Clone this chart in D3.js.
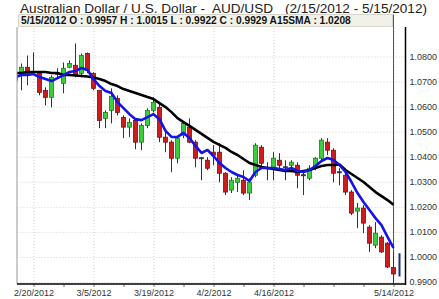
<!DOCTYPE html>
<html><head><meta charset="utf-8">
<script src="https://cdn.jsdelivr.net/npm/d3@7"></script>
<style>
body{margin:0;background:#fff;}
svg{display:block;font-family:"Liberation Sans",Arial,sans-serif;}
</style>
</head><body>
<svg id="c" width="439" height="299"></svg>
<script>
// ---------- DATA ----------
const dates = ["2/15/2012","2/16/2012","2/17/2012","2/20/2012","2/21/2012","2/22/2012","2/23/2012","2/24/2012","2/27/2012","2/28/2012","2/29/2012",
"3/1/2012","3/2/2012","3/5/2012","3/6/2012","3/7/2012","3/8/2012","3/9/2012","3/12/2012","3/13/2012","3/14/2012","3/15/2012","3/16/2012","3/19/2012","3/20/2012","3/21/2012","3/22/2012","3/23/2012","3/26/2012","3/27/2012","3/28/2012","3/29/2012","3/30/2012",
"4/2/2012","4/3/2012","4/4/2012","4/5/2012","4/6/2012","4/9/2012","4/10/2012","4/11/2012","4/12/2012","4/13/2012","4/16/2012","4/17/2012","4/18/2012","4/19/2012","4/20/2012","4/23/2012","4/24/2012","4/25/2012","4/26/2012","4/27/2012","4/30/2012",
"5/1/2012","5/2/2012","5/3/2012","5/4/2012","5/7/2012","5/8/2012","5/9/2012","5/10/2012","5/11/2012","5/14/2012","5/15/2012"];

const open  = [1.0705,1.0725,1.0757,1.0740,1.0733,1.0665,1.0637,1.0730,1.0693,1.0757,1.0765,
1.0733,1.0812,1.0733,1.0665,1.0553,1.0585,1.0633,1.0557,1.0518,1.0545,1.0458,1.0525,1.0585,1.0597,1.0478,1.0458,1.0394,1.0486,1.0518,1.0458,1.0396,1.0386,
1.0418,1.0418,1.0334,1.0267,1.0298,1.0306,1.0255,1.0326,1.0438,1.0356,1.0358,1.0386,1.0360,1.0366,1.0366,1.0328,1.0314,1.0358,1.0394,1.0458,1.0426,
1.0340,1.0326,1.0259,1.0183,1.0195,1.0119,1.0047,1.0079,1.0055,0.9958,0.9957];
const high  = [1.0745,1.0772,1.0804,1.0816,1.0737,1.0677,1.0725,1.0753,1.0776,1.0784,1.0852,
1.0812,1.0816,1.0737,1.0665,1.0585,1.0673,1.0645,1.0565,1.0553,1.0553,1.0533,1.0593,1.0637,1.0613,1.0498,1.0466,1.0478,1.0537,1.0553,1.0466,1.0398,1.0398,
1.0446,1.0454,1.0338,1.0318,1.0326,1.0346,1.0314,1.0454,1.0446,1.0378,1.0418,1.0414,1.0386,1.0386,1.0378,1.0338,1.0366,1.0398,1.0474,1.0474,1.0434,
1.0354,1.0334,1.0267,1.0215,1.0207,1.0127,1.0139,1.0087,1.0059,1.0020,1.0015];
const low   = [1.0665,1.0665,1.0685,1.0733,1.0645,1.0605,1.0597,1.0713,1.0653,1.0753,1.0717,
1.0717,1.0733,1.0665,1.0514,1.0514,1.0533,1.0565,1.0474,1.0478,1.0430,1.0426,1.0514,1.0577,1.0458,1.0418,1.0338,1.0374,1.0474,1.0454,1.0358,1.0306,1.0346,
1.0366,1.0298,1.0247,1.0255,1.0259,1.0247,1.0227,1.0318,1.0358,1.0306,1.0306,1.0346,1.0306,1.0338,1.0274,1.0247,1.0306,1.0346,1.0386,1.0406,1.0298,
1.0286,1.0247,1.0167,1.0115,1.0095,1.0020,1.0035,1.0016,0.9956,0.9900,0.9922];
const close = [1.0730,1.0757,1.0725,1.0737,1.0657,1.0637,1.0717,1.0733,1.0753,1.0772,1.0725,
1.0804,1.0745,1.0673,1.0545,1.0577,1.0641,1.0577,1.0518,1.0537,1.0458,1.0525,1.0585,1.0617,1.0478,1.0458,1.0394,1.0474,1.0533,1.0458,1.0394,1.0392,1.0354,
1.0406,1.0334,1.0259,1.0306,1.0314,1.0255,1.0298,1.0446,1.0374,1.0352,1.0394,1.0366,1.0356,1.0378,1.0326,1.0324,1.0354,1.0394,1.0466,1.0426,1.0334,
1.0336,1.0259,1.0175,1.0195,1.0135,1.0055,1.0095,1.0020,0.9960,0.9932,0.9929];

// 15-period SMA (black), 2/15 .. 5/14
const sma15 = [1.0734,1.0734,1.0738,1.0738,1.0738,1.0738,1.0734,1.0734,1.0726,1.0726,1.0724,1.0722,1.0720,1.0716,1.0710,1.0702,1.0690,1.0682,1.0670,1.0662,1.0654,1.0646,1.0638,1.0630,1.0614,1.0598,1.0578,1.0554,1.0538,1.0523,1.0507,1.0491,1.0475,
1.0459,1.0447,1.0435,1.0419,1.0407,1.0391,1.0375,1.0367,1.0359,1.0355,1.0351,1.0347,1.0343,1.0343,1.0339,1.0343,1.0347,1.0355,1.0363,1.0367,1.0367,1.0369,1.0347,1.0331,1.0315,1.0299,1.0279,1.0259,1.0243,1.0227,1.0208];
// short moving average (blue), 2/15 .. 5/14
const maShort = [1.0718,1.0726,1.0726,1.0730,1.0718,1.0710,1.0702,1.0714,1.0726,1.0738,1.0742,1.0754,1.0746,1.0710,1.0682,1.0662,1.0654,1.0618,1.0594,1.0570,1.0550,1.0546,1.0558,1.0570,1.0550,1.0503,1.0479,1.0479,1.0495,1.0475,1.0443,1.0415,1.0427,
1.0403,1.0375,1.0355,1.0339,1.0327,1.0319,1.0303,1.0339,1.0355,1.0355,1.0355,1.0351,1.0347,1.0355,1.0343,1.0339,1.0347,1.0363,1.0383,1.0395,1.0387,1.0367,1.0339,1.0299,1.0255,1.0219,1.0187,1.0155,1.0127,1.0080,1.0036];

const yTicks = [0.99,1.00,1.01,1.02,1.03,1.04,1.05,1.06,1.07,1.08];
const xLabels = ["2/20/2012","3/5/2012","3/19/2012","4/2/2012","4/16/2012","5/14/2012"];
const weekTicks = ["2/20/2012","2/27/2012","3/5/2012","3/12/2012","3/19/2012","3/26/2012","4/2/2012","4/9/2012","4/16/2012","4/23/2012","4/30/2012","5/7/2012","5/14/2012"];
const titleMain = "Australian Dollar / U.S. Dollar -  AUD/USD";
const titleRange = "(2/15/2012 - 5/15/2012)";

// ---------- LAYOUT ----------
const L = 17, R = 405.5, T = 27, B = 284;
const svg = d3.select("#c");
const n = dates.length;
const x = d3.scaleLinear().domain([0, n - 1]).range([15.5, 15.5 + 6 * (n - 1)]);
const y = d3.scaleLinear().domain([0.99, 1.08]).range([282, 56.5]);

svg.append("defs").append("clipPath").attr("id","plot")
  .append("rect").attr("x", L).attr("y", T).attr("width", R - L).attr("height", B - T);

// title
svg.append("text").attr("x", 20).attr("y", 13).attr("font-size", 13.6).attr("fill", "#222")
  .style("white-space","pre").text(titleMain);
svg.append("text").attr("x", 427).attr("y", 13).attr("font-size", 13.6).attr("fill", "#222")
  .attr("text-anchor","end").text(titleRange);

// grid: horizontal
const gy = svg.append("g").attr("transform", `translate(${R},0)`)
  .call(d3.axisLeft(y).tickValues(yTicks).tickSize(R - L).tickFormat(""));
gy.select(".domain").remove();
gy.selectAll("line").attr("stroke", "#cfcfcf").attr("stroke-dasharray", "1,2");

// grid: vertical
const labelIdx = xLabels.map(d => dates.indexOf(d));
const gx = svg.append("g").attr("transform", `translate(0,${B})`)
  .call(d3.axisBottom(x).tickValues(labelIdx).tickSize(-(B - T)).tickFormat(""));
gx.select(".domain").remove();
gx.selectAll("line").attr("stroke", "#cfcfcf").attr("stroke-dasharray", "1,2");

// header box
svg.append("rect").attr("x", 18.5).attr("y", 14.5).attr("width", 374).attr("height", 12)
  .attr("fill", "#f1f1e9").attr("stroke", "#d6d6cc");
const last = n - 1;
const f4 = d3.format(".4f");
svg.append("text").attr("x", 21).attr("y", 23.5).attr("font-size", 10.2).attr("font-weight", "bold").attr("fill", "#111")
  .text(`${dates[last]} O : ${f4(open[last])} H : ${f4(high[last])} L : ${f4(low[last])} C : ${f4(close[last])} A15SMA : ${f4(sma15[sma15.length-1])}`);

// cursor line
svg.append("line").attr("x1", x(last - 1)).attr("x2", x(last - 1)).attr("y1", 14.5).attr("y2", B)
  .attr("stroke", "#555").attr("stroke-width", 1);

// candles
const plot = svg.append("g").attr("clip-path", "url(#plot)");
const idx = d3.range(n - 1);
plot.selectAll("line.wick").data(idx).join("line").attr("class","wick")
  .attr("x1", i => x(i)).attr("x2", i => x(i))
  .attr("y1", i => y(high[i])).attr("y2", i => y(low[i]))
  .attr("stroke", "#333").attr("stroke-width", 1);
plot.selectAll("rect.body").data(idx).join("rect").attr("class","body")
  .attr("x", i => x(i) - 2).attr("width", 4)
  .attr("y", i => y(Math.max(open[i], close[i])))
  .attr("height", i => Math.max(1, Math.abs(y(open[i]) - y(close[i]))))
  .attr("fill", i => Math.abs(close[i]-open[i]) < 0.0006 ? "#333" : (close[i] >= open[i] ? "#3dcc3d" : "#cc1c1c"))
  .attr("stroke", i => Math.abs(close[i]-open[i]) < 0.0006 ? "#333" : (close[i] >= open[i] ? "#1e7d1e" : "#7a1010"))
  .attr("stroke-width", 0.8);
// current (last) bar
plot.append("line").attr("x1", x(last)).attr("x2", x(last))
  .attr("y1", y(high[last])).attr("y2", y(low[last]))
  .attr("stroke", "#1a2e80").attr("stroke-width", 2);

// moving averages
const line = d3.line().x((d, i) => x(i)).y(d => y(d));
plot.append("path").datum(sma15).attr("d", line).attr("fill", "none")
  .attr("stroke", "#000").attr("stroke-width", 2.6).attr("stroke-linejoin", "round");
plot.append("path").datum(maShort).attr("d", line).attr("fill", "none")
  .attr("stroke", "#1414e6").attr("stroke-width", 2.6).attr("stroke-linejoin", "round");

// frame
svg.append("line").attr("x1", L).attr("x2", L).attr("y1", T).attr("y2", B).attr("stroke", "#999");
svg.append("line").attr("x1", R).attr("x2", R).attr("y1", T).attr("y2", B + 1).attr("stroke", "#000").attr("stroke-width", 1.5);

// x axis
const xa = svg.append("g").attr("transform", `translate(0,${B})`)
  .call(d3.axisBottom(x).tickValues(weekTicks.map(d => dates.indexOf(d))).tickSize(3).tickFormat(""));
xa.select(".domain").remove();
xa.selectAll("line").attr("stroke", "#777");
svg.append("line").attr("x1", L).attr("x2", R).attr("y1", B).attr("y2", B).attr("stroke", "#000").attr("stroke-width", 1.6);
const xl = svg.append("g").attr("transform", `translate(0,${B})`)
  .call(d3.axisBottom(x).tickValues(labelIdx).tickSize(0).tickPadding(6).tickFormat(i => dates[i]));
xl.select(".domain").remove();
xl.selectAll("text").attr("font-size", 9).attr("fill", "#333").attr("font-family", "Liberation Sans, Arial, sans-serif");

// y axis labels
const yl = svg.append("g").attr("transform", `translate(${R},0)`)
  .call(d3.axisRight(y).tickValues(yTicks).tickSize(0).tickPadding(4).tickFormat(f4));
yl.select(".domain").remove();
yl.selectAll("text").attr("font-size", 9).attr("fill", "#333").attr("font-family", "Liberation Sans, Arial, sans-serif");
</script>
</body></html>
